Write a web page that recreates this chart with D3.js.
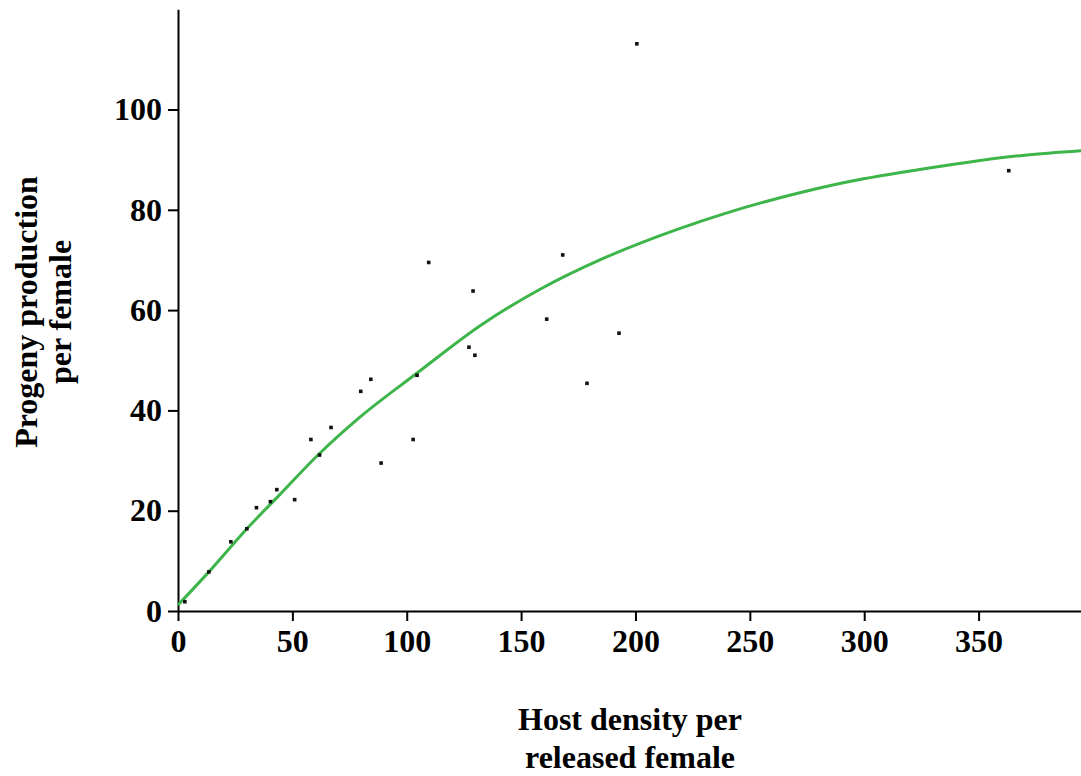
<!DOCTYPE html>
<html>
<head>
<meta charset="utf-8">
<script src="https://cdn.jsdelivr.net/npm/d3@7"></script>
<style>
  body { margin: 0; background: #fff; }
  text { font-family: "Liberation Serif", "Times New Roman", serif; font-weight: bold; }
</style>
</head>
<body>
<div id="chart"></div>
<script>
// observed points
const hostDensity = [3.0, 13.5, 23.1, 30.1, 34.3, 40.4, 43.2, 51.0, 58.1, 61.9, 66.9, 79.9, 84.3,
                     88.8, 102.8, 104.5, 109.6, 127.2, 129.0, 129.8, 161.2, 168.2, 178.8, 192.8, 200.6, 363.2];
const progeny = [1.85, 7.8, 13.8, 16.4, 20.6, 21.8, 24.2, 22.2, 34.2, 31.1, 36.6, 43.8, 46.2,
                 29.5, 34.2, 47.0, 69.5, 52.6, 63.8, 51.0, 58.2, 71.0, 45.4, 55.4, 113.1, 87.8];

// fitted curve
const fitX = [0, 13.5, 30.1, 44.5, 61.2, 79.4, 104.1, 132.4, 159.3, 185.4, 218.9, 239.3, 268.3, 290.9, 323.6, 344.0, 370.2, 395];
const fitY = [1.2, 7.8, 16.4, 23.2, 31.1, 38.6, 47.3, 57.0, 64.4, 70.2, 76.2, 79.3, 83.0, 85.4, 88.0, 89.4, 90.9, 91.8];

const xTicks = [0, 50, 100, 150, 200, 250, 300, 350];
const yTicks = [0, 20, 40, 60, 80, 100];

const width = 1081, height = 776;

const svg = d3.select("#chart").append("svg")
    .attr("width", width)
    .attr("height", height);

const x = d3.scaleLinear()
    .domain([0, 395])
    .range([178, 1081.5]);

const y = d3.scaleLinear()
    .domain([0, 120])
    .range([611, 9.2]);

const xAxis = svg.append("g")
    .attr("transform", `translate(0,${y(0)})`)
    .call(d3.axisBottom(x).tickValues(xTicks).tickSizeInner(10).tickSizeOuter(0).tickPadding(8));

const yAxis = svg.append("g")
    .attr("transform", `translate(${x(0)},0)`)
    .call(d3.axisLeft(y).tickValues(yTicks).tickSizeInner(10).tickSizeOuter(0).tickPadding(6));

[xAxis, yAxis].forEach(g => {
    g.selectAll("path, line").attr("stroke", "#000").attr("stroke-width", 2);
    g.selectAll("text")
        .attr("fill", "#000")
        .style("font-size", "32px")
        .style("font-family", "'Liberation Serif', serif")
        .style("font-weight", "bold");
});

// fitted line
const fit = fitX.map((d, i) => ({x: d, y: fitY[i]}));
const line = d3.line()
    .x(d => x(d.x))
    .y(d => y(d.y))
    .curve(d3.curveMonotoneX);

svg.append("path")
    .datum(fit)
    .attr("fill", "none")
    .attr("stroke", "#3db54a")
    .attr("stroke-width", 3)
    .attr("d", line);

// points
const pts = hostDensity.map((d, i) => ({x: d, y: progeny[i]}));
svg.append("g").selectAll("rect")
    .data(pts)
    .join("rect")
    .attr("x", d => x(d.x) - 1.8)
    .attr("y", d => y(d.y) - 1.8)
    .attr("width", 3.6)
    .attr("height", 3.6)
    .attr("fill", "#111");

// axis titles
svg.append("text")
    .attr("text-anchor", "middle")
    .style("font-size", "32px")
    .selectAll("tspan")
    .data(["Host density per", "released female"])
    .join("tspan")
    .attr("x", 630)
    .attr("y", (d, i) => 730 + i * 38)
    .text(d => d);

svg.append("text")
    .attr("text-anchor", "middle")
    .attr("transform", "translate(0,312) rotate(-90)")
    .style("font-size", "32px")
    .selectAll("tspan")
    .data(["Progeny production", "per female"])
    .join("tspan")
    .attr("x", 0)
    .attr("y", (d, i) => 37 + i * 34)
    .text(d => d);
</script>
</body>
</html>
